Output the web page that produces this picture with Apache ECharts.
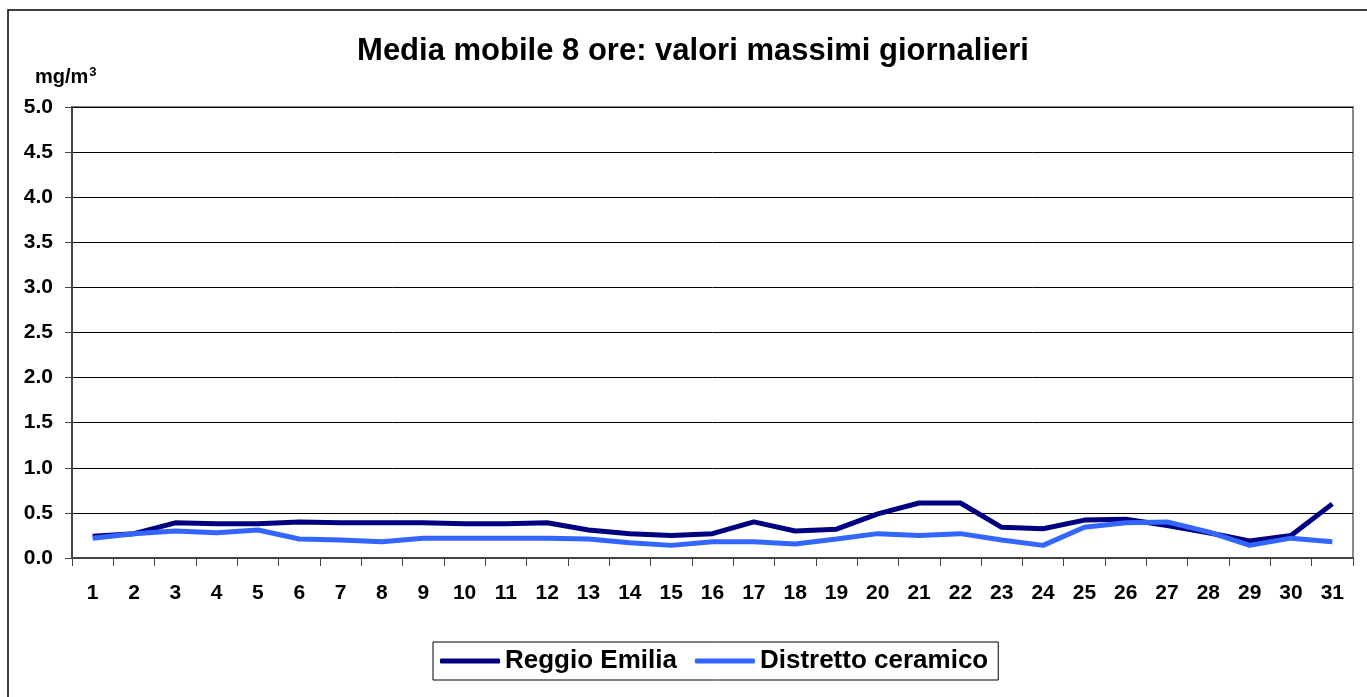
<!DOCTYPE html>
<html>
<head>
<meta charset="utf-8">
<title>Media mobile 8 ore</title>
<script src="https://cdn.jsdelivr.net/npm/echarts@6/dist/echarts.min.js"></script>
<style>
html, body { margin: 0; padding: 0; background: #fff; }
#chart { width: 1367px; height: 697px; }
</style>
</head>
<body>
<div id="chart"></div>
<script>
// giorni del mese
var giorni = [];
for (var i = 1; i <= 31; i++) { giorni.push(String(i)); }

// valori (mg/m3)
var reggioEmilia = [0.24, 0.27, 0.39, 0.38, 0.38, 0.40, 0.39, 0.39, 0.39, 0.38, 0.38,
	0.39, 0.31, 0.27, 0.25, 0.27, 0.40, 0.30, 0.32, 0.49, 0.61,
	0.61, 0.34, 0.325, 0.42, 0.43, 0.36, 0.28, 0.19, 0.25, 0.60];
var distrettoCeramico = [0.22, 0.27, 0.30, 0.28, 0.31, 0.21, 0.20, 0.18, 0.22, 0.22, 0.22,
	0.22, 0.21, 0.17, 0.14, 0.18, 0.18, 0.155, 0.21, 0.27, 0.25,
	0.27, 0.20, 0.14, 0.34, 0.39, 0.40, 0.29, 0.14, 0.22, 0.18];

var chart = echarts.init(document.getElementById("chart"));
var fontFam = "Liberation Sans, Arial, sans-serif";

var option = {
	animation: false,
	backgroundColor: "#fff",
	title: {
		text: "Media mobile 8 ore: valori massimi giornalieri",
		left: 688,
		textAlign: "center",
		top: 31,
		textStyle: {
			fontFamily: fontFam,
			fontSize: 31,
			fontWeight: "bold",
			color: "#000"
		}
	},
	graphic: [{
		// cornice esterna
		type: "rect",
		shape: { x: 8, y: 10, width: 1400, height: 720 },
		style: { fill: "none", stroke: "#000", lineWidth: 1.5 },
		silent: true
	}, {
		type: "text",
		left: 35,
		top: 66,
		style: {
			text: "mg/m{sup|3}",
			fontFamily: fontFam,
			fontSize: 20,
			fontWeight: "bold",
			fill: "#000",
			rich: {
				sup: { fontSize: 13, fontWeight: "bold", verticalAlign: "top", padding: [0, 0, 10, 1] }
			}
		}
	}],
	legend: {
		data: ["Reggio Emilia", "Distretto ceramico"],
		left: 433,
		top: 642,
		padding: [6, 10, 6, 7],
		itemGap: 18,
		borderColor: "#000",
		borderWidth: 1,
		itemWidth: 60,
		itemHeight: 5,
		icon: "roundRect",
		textStyle: {
			fontFamily: fontFam,
			fontSize: 26,
			fontWeight: "bold",
			color: "#000"
		}
	},
	grid: {
		left: 72,
		top: 107,
		width: 1281,
		height: 451,
		show: true,
		borderColor: "#888",
		borderWidth: 2,
		backgroundColor: "transparent"
	},
	xAxis: {
		type: "category",
		data: giorni,
		boundaryGap: true,
		axisLine: { lineStyle: { color: "#444", width: 2 } },
		axisTick: { show: true, inside: false, length: 8, lineStyle: { color: "#444", width: 1 } },
		axisLabel: {
			margin: 25,
			fontFamily: fontFam,
			fontSize: 21,
			fontWeight: "bold",
			color: "#000"
		},
		splitLine: { show: false }
	},
	yAxis: {
		type: "value",
		min: 0,
		max: 5,
		interval: 0.5,
		axisLine: { show: true, lineStyle: { color: "#444", width: 2 } },
		axisTick: { show: true, length: 7, lineStyle: { color: "#444" } },
		axisLabel: {
			margin: 19,
			fontFamily: fontFam,
			fontSize: 21,
			fontWeight: "bold",
			color: "#000",
			formatter: function(v) { return v.toFixed(1); }
		},
		splitLine: { show: true, lineStyle: { color: "#000", width: 1 } }
	},
	series: [{
		name: "Reggio Emilia",
		type: "line",
		data: reggioEmilia,
		symbol: "none",
		color: "#000080",
		lineStyle: { color: "#000080", width: 5 },
		z: 3
	}, {
		name: "Distretto ceramico",
		type: "line",
		data: distrettoCeramico,
		symbol: "none",
		color: "#3366FF",
		lineStyle: { color: "#3366FF", width: 5 },
		z: 4
	}]
};

chart.setOption(option);
</script>
</body>
</html>
